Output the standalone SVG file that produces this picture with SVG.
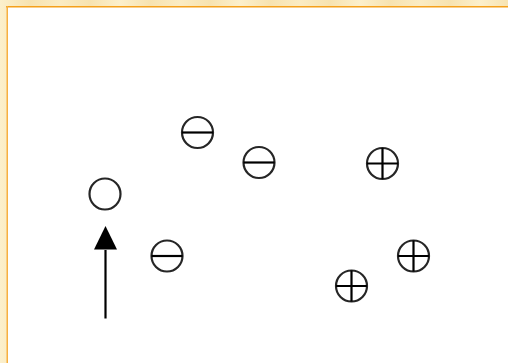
<svg xmlns="http://www.w3.org/2000/svg" width="508" height="363" viewBox="0 0 508 363">
<defs>
<style>
.p{fill:none;stroke:#262626;stroke-width:2.2}
.b{stroke:#000;stroke-width:2.2}
</style>
<linearGradient id="tex" x1="0" y1="0" x2="60" y2="0" gradientUnits="userSpaceOnUse" spreadMethod="reflect">
<stop offset="0" stop-color="#FCF0CC"/>
<stop offset="0.5" stop-color="#F7E3B0"/>
<stop offset="1" stop-color="#FBECC3"/>
</linearGradient>
</defs>
<rect width="508" height="363" fill="url(#tex)"/>
<rect x="7" y="6" width="501" height="357" fill="#fff"/>
<rect x="6" y="6" width="502" height="1.5" fill="#F5A01A"/>
<rect x="6.5" y="6" width="1.5" height="357" fill="#F7B040"/>
<g id="n0"><circle cx="105" cy="194" r="15.5" class="p"/></g>
<g id="m1"><circle cx="197.5" cy="132.5" r="15.5" class="p"/><path d="M182,132.5H213" class="b"/></g>
<g id="m2"><circle cx="259" cy="162.5" r="15.5" class="p"/><path d="M243.5,162.5H274.5" class="b"/></g>
<g id="m3"><circle cx="167" cy="256" r="15.5" class="p"/><path d="M151.5,256H182.5" class="b"/></g>
<g id="p1"><circle cx="382.5" cy="163.5" r="15.5" class="p"/><path d="M367,163.5H398M382.5,148V179" class="b"/></g>
<g id="p2"><circle cx="413.5" cy="256" r="15.5" class="p"/><path d="M398,256H429M413.5,240.5V271.5" class="b"/></g>
<g id="p3"><circle cx="351.5" cy="286" r="15.5" class="p"/><path d="M336,286H367M351.5,270.5V301.5" class="b"/></g>
<g id="connectors">
<path d="M105.5,318.5V250" class="b"/>
<path d="M105.5,226L117,249.5H94Z" fill="#000"/>
</g>
</svg>
